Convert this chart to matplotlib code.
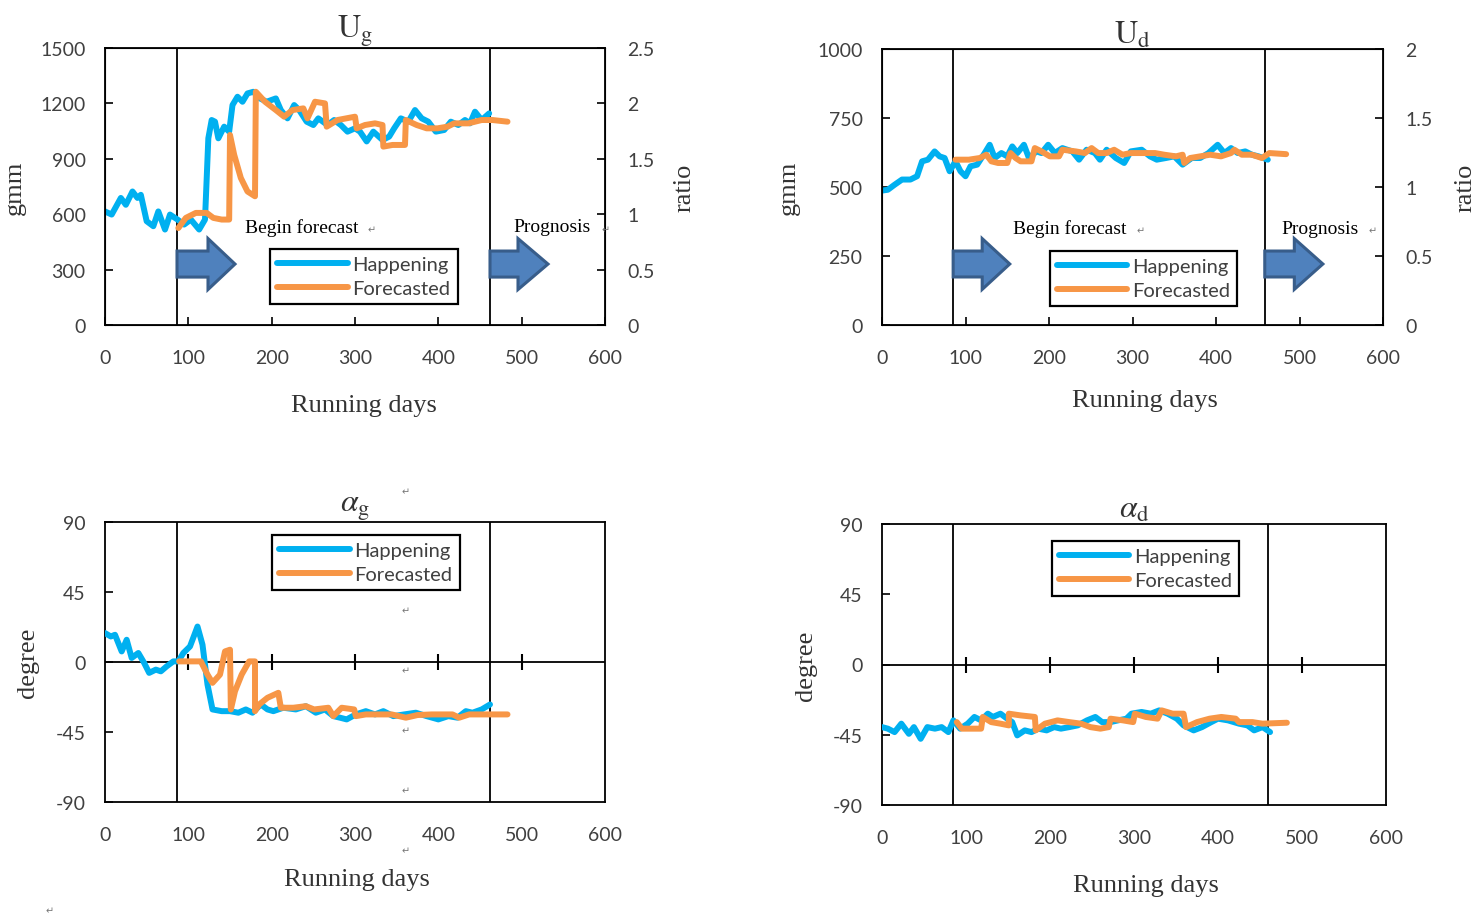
import matplotlib
matplotlib.use("Agg")
import matplotlib.pyplot as plt
from matplotlib.patches import Polygon
import numpy as np

plt.rcParams['mathtext.fontset'] = 'stix'

# ---- data ----
# U_g
ug_happ_x = [0, 8, 19, 25, 33, 39, 43, 50, 58, 64, 72, 78, 87, 95, 103, 113, 120, 124, 128, 132,
             136, 143, 149, 153, 159, 165, 171, 178, 186, 194, 205, 211, 219, 227, 233, 242, 250,
             256, 267, 275, 283, 291, 300, 306, 314, 322, 333, 341, 347, 355, 364, 372, 380, 388,
             397, 407, 415, 424, 432, 438, 444, 452, 461]
ug_happ_y = [615, 598, 688, 651, 723, 688, 705, 562, 535, 615, 517, 598, 571, 544, 571, 517, 571,
             1011, 1110, 1101, 1011, 1074, 1047, 1191, 1236, 1209, 1254, 1263, 1227, 1209, 1227,
             1164, 1119, 1191, 1164, 1101, 1083, 1119, 1083, 1110, 1083, 1047, 1065, 1047, 994,
             1047, 1002, 1020, 1065, 1119, 1101, 1164, 1119, 1101, 1047, 1056, 1101, 1083, 1110,
             1092, 1155, 1110, 1146]
ug_fore_x = [88, 97, 109, 122, 130, 140, 149, 150, 155, 163, 171, 180, 181, 192, 205, 215, 225,
             238, 243, 252, 264, 266, 279, 300, 302, 312, 324, 333, 334, 345, 360, 361, 374, 386,
             399, 411, 419, 436, 452, 465, 483]
ug_fore_y = [525, 580, 607, 607, 580, 571, 571, 1029, 922, 796, 723, 697, 1263, 1209, 1164, 1128,
             1164, 1173, 1119, 1209, 1200, 1074, 1110, 1128, 1065, 1083, 1092, 1083, 966, 975,
             975, 1110, 1083, 1065, 1065, 1074, 1092, 1092, 1110, 1110, 1101]

# U_d
ud_happ_x = [0, 7, 15, 24, 34, 42, 48, 55, 63, 69, 75, 81, 88, 94, 100, 106, 114, 123, 129, 135,
             143, 150, 156, 162, 170, 176, 185, 191, 199, 207, 216, 228, 236, 245, 255, 261, 269,
             280, 290, 298, 311, 321, 329, 340, 350, 360, 371, 381, 391, 402, 410, 418, 426, 435,
             443, 451, 462]
ud_happ_y = [487, 490, 508, 527, 527, 539, 593, 599, 629, 611, 605, 557, 593, 557, 539, 575, 581,
             623, 653, 605, 623, 611, 647, 623, 653, 605, 629, 623, 653, 623, 641, 629, 599, 635,
             623, 599, 635, 605, 587, 629, 635, 611, 599, 605, 611, 581, 605, 605, 623, 653, 623,
             641, 623, 629, 617, 611, 599]
ud_fore_x = [88, 104, 117, 125, 131, 139, 150, 154, 160, 166, 179, 183, 191, 201, 212, 216, 232,
             243, 251, 259, 269, 278, 288, 298, 311, 327, 338, 352, 360, 362, 369, 381, 393, 406,
             418, 422, 431, 443, 455, 464, 484]
ud_fore_y = [599, 599, 605, 617, 593, 587, 587, 623, 605, 593, 593, 641, 629, 611, 611, 635, 629,
             623, 641, 623, 623, 635, 617, 623, 623, 623, 617, 611, 617, 587, 605, 611, 617, 611,
             623, 635, 617, 617, 605, 623, 619]

# alpha_g
ag_happ_x = [0, 7, 12, 20, 26, 32, 40, 47, 53, 61, 67, 74, 82, 88, 94, 102, 111, 117, 123, 129,
             140, 150, 160, 169, 177, 187, 195, 202, 214, 229, 241, 253, 264, 274, 282, 290, 301,
             313, 324, 334, 346, 359, 373, 386, 400, 412, 423, 433, 441, 452, 462]
ag_happ_y = [18.6, 16.4, 17.5, 6.8, 14.3, 2.6, 5.8, -0.6, -7.0, -4.9, -6.0, -2.8, 0.4, 0.4, 5.8,
             10.0, 22.8, 11.1, -14.5, -30.5, -31.6, -31.6, -32.6, -30.5, -32.6, -27.3, -30.5,
             -31.6, -29.4, -30.5, -28.4, -32.6, -30.5, -34.8, -35.8, -36.9, -33.7, -31.6, -33.7,
             -31.6, -34.8, -33.7, -32.6, -34.8, -36.9, -34.8, -35.8, -31.6, -32.6, -30.5, -27.3]
ag_fore_x = [89, 115, 123, 129, 138, 144, 150, 151, 156, 164, 173, 180, 180, 185, 195, 208, 211,
             226, 241, 251, 268, 274, 284, 299, 301, 313, 328, 344, 361, 375, 392, 404, 417, 425,
             437, 454, 483]
ag_fore_y = [0.4, 0.4, -8.1, -13.4, -8.1, 6.8, 7.9, -30.5, -18.8, -8.1, 0.4, 0.4, -31.6, -27.3,
             -23.0, -19.8, -29.4, -29.4, -28.4, -30.5, -29.4, -34.8, -29.4, -30.5, -34.8, -33.7,
             -33.7, -33.7, -35.8, -34.1, -33.7, -33.7, -33.7, -35.8, -33.7, -33.7, -33.7]

# alpha_d
ad_happ_x = [0, 7, 15, 23, 32, 38, 46, 54, 63, 71, 79, 85, 93, 102, 110, 118, 126, 132, 141, 149,
             155, 161, 170, 178, 186, 196, 205, 213, 223, 233, 244, 254, 262, 272, 281, 291, 297,
             309, 320, 330, 340, 351, 359, 371, 381, 392, 400, 412, 425, 435, 443, 453, 462]
ad_happ_y = [-40.1, -41.1, -43.3, -37.9, -44.4, -40.1, -47.6, -40.1, -41.1, -40.1, -43.3, -35.8,
             -41.1, -37.9, -33.6, -35.8, -31.5, -33.6, -31.5, -34.7, -36.9, -45.4, -42.2, -43.3,
             -41.1, -42.2, -40.1, -41.1, -40.1, -39.0, -35.8, -33.6, -36.9, -36.9, -35.8, -34.7,
             -31.5, -30.4, -31.5, -29.4, -31.5, -34.7, -39.0, -42.2, -40.1, -36.9, -34.7, -35.8,
             -37.9, -39.0, -42.2, -40.1, -43.3]
ad_fore_x = [89, 95, 108, 118, 120, 130, 141, 151, 151, 165, 182, 183, 194, 209, 223, 237, 248,
             260, 270, 272, 287, 299, 301, 314, 328, 333, 346, 359, 362, 375, 390, 404, 421, 425,
             441, 453, 482]
ad_fore_y = [-36.9, -41.1, -41.1, -41.1, -33.6, -36.9, -37.9, -39.0, -31.5, -32.6, -33.6, -42.2,
             -37.9, -35.8, -36.9, -37.9, -40.1, -41.1, -40.1, -34.7, -35.8, -36.9, -31.5, -33.6,
             -34.7, -29.4, -31.5, -31.5, -40.1, -36.9, -34.7, -33.6, -34.7, -36.9, -36.9, -37.9,
             -37.3]

x_ticks = [0, 100, 200, 300, 400, 500, 600]
u_g_ticks = [0, 300, 600, 900, 1200, 1500]
u_d_ticks = [0, 250, 500, 750, 1000]
ratio_g_ticks = [0, 0.5, 1, 1.5, 2, 2.5]
ratio_g_labels = ['0', '0.5', '1', '1.5', '2', '2.5']
ratio_d_ticks = [0, 0.5, 1, 1.5, 2]
ratio_d_labels = ['0', '0.5', '1', '1.5', '2']
deg_ticks = [-90, -45, 0, 45, 90]
split_g = [86, 462]
split_d = [85, 459]

BLUE = '#00B0F0'
ORANGE = '#F79646'
GREY = '#404040'
SANS = 'Lato'
SERIF = 'Liberation Serif'

fig = plt.figure(figsize=(14.81, 9.2), dpi=100)
W, H = 1481, 920


def make_ax(l, t, r, b):
    return fig.add_axes([l / W, 1 - b / H, (r - l) / W, (b - t) / H])


def style(ax, yticks, ylim):
    ax.set_xlim(0, 600)
    ax.set_ylim(*ylim)
    ax.set_xticks(x_ticks)
    ax.set_xticklabels([str(v) for v in x_ticks])
    ax.set_yticks(yticks)
    ax.set_yticklabels([str(v) for v in yticks])
    for s in ax.spines.values():
        s.set_linewidth(1.3)
        s.set_color('black')
    ax.tick_params(direction='in', length=6, width=1.2, labelsize=14, labelcolor=GREY, pad=14)
    ax.tick_params(axis='x', pad=17)
    for lab in ax.get_xticklabels() + ax.get_yticklabels():
        lab.set_family(SANS)


def draw(ax, hx, hy, fx, fy, splits):
    for s in splits:
        ax.axvline(s, color='black', lw=1.3, zorder=1)
    ax.plot(hx, hy, color=BLUE, lw=4.3, solid_capstyle='round', solid_joinstyle='round',
            label='Happening', zorder=3)
    ax.plot(fx, fy, color=ORANGE, lw=4.3, solid_capstyle='round', solid_joinstyle='round',
            label='Forecasted', zorder=4)


def legend(ax, loc, anchor):
    lg = ax.legend(loc=loc, bbox_to_anchor=anchor, borderaxespad=0, fancybox=False,
                   framealpha=1, edgecolor='black', handlelength=3.5, handletextpad=0.25,
                   labelspacing=0.35, borderpad=0.35,
                   prop={'family': SANS, 'size': 14.5})
    lg.get_frame().set_linewidth(1.6)
    for t in lg.get_texts():
        t.set_color(GREY)
    lg.set_zorder(6)


def arrow(ax, x0, x1, xh, yc):
    body, head = 0.047, 0.092
    pts = [(x0, yc - body), (xh, yc - body), (xh, yc - head), (x1, yc),
           (xh, yc + head), (xh, yc + body), (x0, yc + body)]
    ax.add_patch(Polygon(pts, closed=True, transform=ax.transAxes, facecolor='#4F81BD',
                         edgecolor='#385D8A', lw=2.2, zorder=5))


def labels(ax, title, ylab, xlab_x, xlab_y, ylab_x):
    ax.set_title(title, fontsize=23, pad=5, color='#333333')
    ax.text(ylab_x, 0.5, ylab, transform=ax.transAxes, rotation=90, ha='center', va='center',
            family=SERIF, fontsize=19, color='#333333')
    ax.text(xlab_x, xlab_y, 'Running days', transform=ax.transAxes, ha='center', va='center',
            family=SERIF, fontsize=19, color='#333333')


def note(x, y):
    fig.text(x / W, 1 - y / H, '\u21b5', fontsize=7, color='#777777', ha='center', va='center')


# ---- U_g ----
ax1 = make_ax(105, 49, 605, 326)
style(ax1, u_g_ticks, (0, 1500))
draw(ax1, ug_happ_x, ug_happ_y, ug_fore_x, ug_fore_y, split_g)
r1 = ax1.twinx()
r1.set_ylim(0, 2.5)
r1.set_yticks(ratio_g_ticks)
r1.set_yticklabels(ratio_g_labels, family=SANS)
r1.tick_params(direction='in', length=6, width=1.2, labelsize=14, labelcolor=GREY, pad=16)
ax1.text(0.28, 0.354, 'Begin forecast', transform=ax1.transAxes, family=SERIF, fontsize=14,
         va='center')
ax1.text(0.816, 0.354, 'Prognosis', transform=ax1.transAxes, family=SERIF, fontsize=14,
         va='center')
arrow(ax1, 0.144, 0.26, 0.206, 0.22)
arrow(ax1, 0.77, 0.886, 0.826, 0.22)
legend(ax1, 'lower left', (0.33, 0.076))
labels(ax1, r'$\mathrm{U_g}$', 'gmm', 0.518, -0.29, -0.18)
r1.text(1.16, 0.5, 'ratio', transform=ax1.transAxes, rotation=90, ha='center', va='center',
        family=SERIF, fontsize=19, color='#333333')

# ---- U_d ----
ax2 = make_ax(882, 50, 1383, 326)
style(ax2, u_d_ticks, (0, 1000))
draw(ax2, ud_happ_x, ud_happ_y, ud_fore_x, ud_fore_y, split_d)
r2 = ax2.twinx()
r2.set_ylim(0, 2)
r2.set_yticks(ratio_d_ticks)
r2.set_yticklabels(ratio_d_labels, family=SANS)
r2.tick_params(direction='in', length=6, width=1.2, labelsize=14, labelcolor=GREY, pad=16)
ax2.text(0.261, 0.351, 'Begin forecast', transform=ax2.transAxes, family=SERIF, fontsize=14,
         va='center')
ax2.text(0.798, 0.351, 'Prognosis', transform=ax2.transAxes, family=SERIF, fontsize=14,
         va='center')
arrow(ax2, 0.142, 0.255, 0.2, 0.221)
arrow(ax2, 0.764, 0.88, 0.823, 0.221)
legend(ax2, 'lower left', (0.335, 0.069))
labels(ax2, r'$\mathrm{U_d}$', 'gmm', 0.524, -0.27, -0.185)
r2.text(1.165, 0.5, 'ratio', transform=ax2.transAxes, rotation=90, ha='center', va='center',
        family=SERIF, fontsize=19, color='#333333')

# ---- alpha_g ----
ax3 = make_ax(105, 523, 605, 803)
style(ax3, deg_ticks, (-90, 90))
ax3.tick_params(axis='x', length=0)
ax3.axhline(0, color='black', lw=1.3, zorder=1)
ax3.plot(x_ticks[1:-1], [0] * 5, ls='none', marker='|', ms=11, mew=1.5, color='black', zorder=1)
draw(ax3, ag_happ_x, ag_happ_y, ag_fore_x, ag_fore_y, split_g)
legend(ax3, 'upper left', (0.334, 0.954))
labels(ax3, r'$\alpha_\mathrm{g}$', 'degree', 0.504, -0.275, -0.155)

# ---- alpha_d ----
ax4 = make_ax(882, 525, 1386, 806)
style(ax4, deg_ticks, (-90, 90))
ax4.tick_params(axis='x', length=0)
ax4.axhline(0, color='black', lw=1.3, zorder=1)
ax4.plot(x_ticks[1:-1], [0] * 5, ls='none', marker='|', ms=11, mew=1.5, color='black', zorder=1)
draw(ax4, ad_happ_x, ad_happ_y, ad_fore_x, ad_fore_y, split_d)
legend(ax4, 'upper left', (0.337, 0.94))
labels(ax4, r'$\alpha_\mathrm{d}$', 'degree', 0.524, -0.285, -0.15)

# stray paragraph marks from the source document
for px, py in [(372, 230), (606, 230), (1141, 231), (1373, 231), (406, 492), (406, 611),
               (406, 671), (406, 731), (406, 791), (406, 851), (50, 911)]:
    note(px, py)

fig.savefig('out.png', dpi=100)
